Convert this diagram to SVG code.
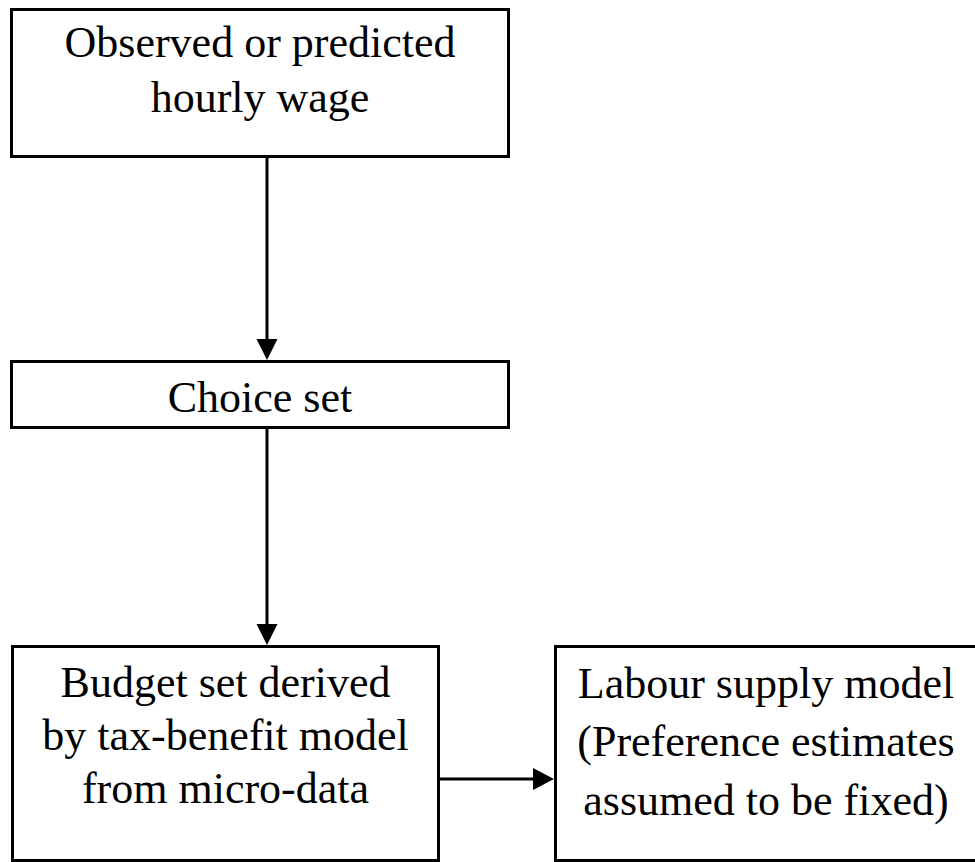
<svg xmlns="http://www.w3.org/2000/svg" width="975" height="862" viewBox="0 0 975 862">
<style>
.box{fill:#fff;stroke:#000;stroke-width:3}
.t{font-family:"Liberation Serif","Times New Roman",serif;font-size:44px;fill:#000;text-anchor:middle}
.c{stroke:#000;stroke-width:3;fill:none}
.h{fill:#000;stroke:none}
</style>
<rect width="975" height="862" fill="#fff"/>
<g id="node-wage">
<rect class="box" x="11.5" y="9.5" width="497" height="147"/>
<text class="t" x="260" y="57">Observed or predicted</text>
<text class="t" x="260" y="112">hourly wage</text>
</g>
<g id="node-choice">
<rect class="box" x="11.5" y="361.5" width="497" height="66"/>
<text class="t" x="260" y="412">Choice set</text>
</g>
<g id="node-budget">
<rect class="box" x="12.5" y="646.5" width="426" height="214"/>
<text class="t" x="225.5" y="697">Budget set derived</text>
<text class="t" x="225.5" y="750">by tax-benefit model</text>
<text class="t" x="225.5" y="803">from micro-data</text>
</g>
<g id="node-labour">
<rect class="box" x="555.5" y="646.5" width="425" height="214"/>
<text class="t" x="766" y="698">Labour supply model</text>
<text class="t" x="766" y="756">(Preference estimates</text>
<text class="t" x="766" y="815">assumed to be fixed)</text>
</g>
<g id="connectors">
<line class="c" x1="267" y1="157" x2="267" y2="340"/>
<polygon class="h" points="256.5,339 277.5,339 267,360"/>
<line class="c" x1="267" y1="428" x2="267" y2="625"/>
<polygon class="h" points="256.5,624 277.5,624 267,645"/>
<line class="c" x1="439" y1="779" x2="534" y2="779"/>
<polygon class="h" points="533,768 533,790 554,779"/>
</g>
</svg>
